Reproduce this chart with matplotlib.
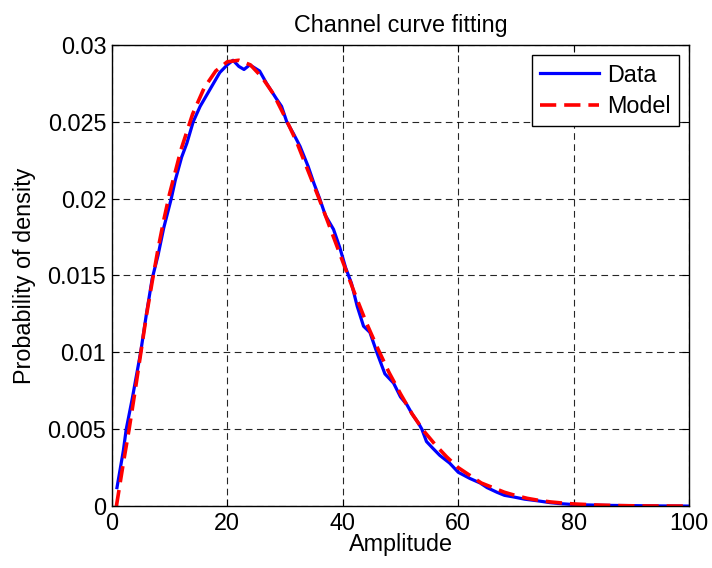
import matplotlib
matplotlib.use("Agg")
import matplotlib.pyplot as plt

data_x = [0.9, 2, 2.5, 3.5, 5, 6, 7, 8, 9, 10.3, 11, 12.1, 13, 14.1, 15.3, 17,
          18.7, 20, 21, 22, 22.9, 23.9, 25.6, 26.8, 28.5, 29.4, 30.3, 31.5,
          32.6, 34, 35, 36, 37, 38.4, 39.5, 40.5, 41.5, 42.5, 43.6, 44.7,
          45.9, 47.3, 48.8, 50, 51.1, 52, 53.1, 53.7, 54.5, 55.5, 56.8, 58.5,
          60, 62, 63.8, 65, 66.7, 68, 69.5, 71.5, 73.6, 76, 78, 80, 85, 90,
          95, 100]
data_y = [0.0012, 0.0036, 0.0050, 0.0069, 0.0100, 0.0125, 0.0148, 0.0163,
          0.0181, 0.0200, 0.0212, 0.0227, 0.0236, 0.0250, 0.0260, 0.0271,
          0.0282, 0.0287, 0.0290, 0.0286, 0.0284, 0.0287, 0.0283, 0.0275,
          0.0265, 0.0260, 0.0250, 0.0242, 0.0234, 0.0221, 0.0210, 0.0200,
          0.0189, 0.0180, 0.0168, 0.0155, 0.0145, 0.0130, 0.0117, 0.0113,
          0.0100, 0.0086, 0.0080, 0.0071, 0.0066, 0.0060, 0.0054, 0.0050,
          0.0042, 0.0038, 0.0033, 0.0028, 0.0022, 0.0018, 0.0015, 0.0012,
          0.0009, 0.0007, 0.0006, 0.00045, 0.00035, 0.00022, 0.00015, 0.0001,
          0.00005, 0.00003, 0.00001, 0.0]

# fitted model
model_x = [0.8, 2, 3, 4, 5, 6, 7, 8, 9, 10, 12, 14, 16, 18, 20, 22, 24, 26,
           28, 30, 32, 34, 36, 38, 40, 42, 44, 46, 48, 50, 52, 54, 56, 58, 60,
           62, 64, 66, 68, 70, 72, 74, 76, 78, 80, 84, 88, 92, 96, 100]
model_y = [0.0, 0.0028, 0.0050, 0.0074, 0.0099, 0.0124, 0.0146, 0.0167,
           0.0186, 0.0203, 0.0232, 0.0255, 0.0272, 0.0283, 0.0289, 0.0290,
           0.0287, 0.0279, 0.0268, 0.0253, 0.0237, 0.0218, 0.0199, 0.0179,
           0.0159, 0.0139, 0.0120, 0.0103, 0.0087, 0.0073, 0.0060, 0.0049,
           0.0040, 0.0032, 0.0025, 0.0020, 0.0015, 0.0012, 0.0009, 0.00068,
           0.0005, 0.00037, 0.00027, 0.0002, 0.00014, 0.00007, 0.00003,
           0.00001, 0.000005, 0.0]

xticks = [0, 20, 40, 60, 80, 100]
yticks = [0, 0.005, 0.01, 0.015, 0.02, 0.025, 0.03]
ytick_labels = ["0", "0.005", "0.01", "0.015", "0.02", "0.025", "0.03"]

plt.rcParams['font.family'] = ['Liberation Sans', 'DejaVu Sans']
FS = 16.8

fig = plt.figure(figsize=(7.12, 5.68), dpi=100)
ax = fig.add_axes([0.157, 0.109, 0.811, 0.812])

ax.plot(data_x, data_y, color='#0000ff', lw=2.3, label='Data')
ax.plot(model_x, model_y, color='#ff0000', lw=2.6, ls=(0, (4.5, 2.2)),
        label='Model')

ax.set_xlim(0, 100)
ax.set_ylim(0, 0.03)
ax.set_xticks(xticks)
ax.set_yticks(yticks)
ax.set_yticklabels(ytick_labels)
ax.tick_params(direction='in', top=True, right=True, labelsize=FS,
               length=5, width=0.8, pad=4)
ax.grid(True, color='black', ls=(0, (6, 4)), lw=0.8, alpha=0.85)
for s in ax.spines.values():
    s.set_linewidth(1.0)

ax.set_title('Channel curve fitting', fontsize=FS, pad=9)
ax.set_xlabel('Amplitude', fontsize=FS, labelpad=-1)
ax.set_ylabel('Probability of density', fontsize=FS, labelpad=8)

leg = ax.legend(loc='upper right', fontsize=FS, fancybox=False,
                edgecolor='black', framealpha=1, handlelength=2.5,
                borderaxespad=0.45, borderpad=0.35, labelspacing=0.35,
                handletextpad=0.35)
leg.get_frame().set_linewidth(1.0)

fig.savefig('out.png', dpi=100)
